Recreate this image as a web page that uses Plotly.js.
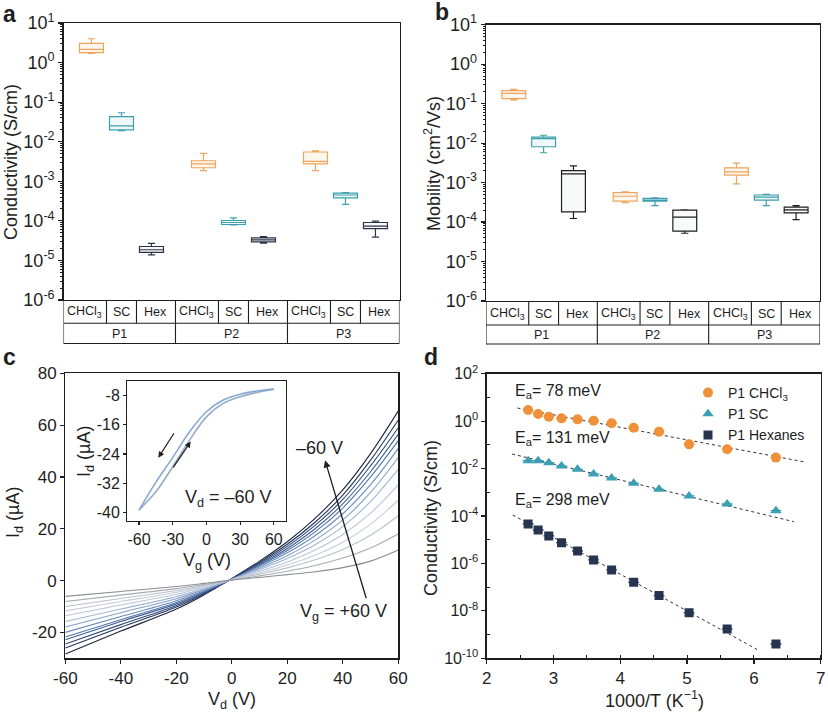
<!DOCTYPE html>
<html>
<head>
<meta charset="utf-8">
<script src="https://cdn.plot.ly/plotly-3.0.1.min.js"></script>
<style>html,body{margin:0;padding:0;background:#fff}#chart{width:828px;height:716px}</style>
</head>
<body>
<div id="chart"></div>
<script>
// ---------------- DATA ----------------
const groupLabels = ['P1', 'P2', 'P3'];
const solventLabels = ['CHCl<sub>3</sub>', 'SC', 'Hex'];
const solventColors = ['#f0a45c', '#3d9fad', '#2d3447'];

// order: P1 CHCl3, P1 SC, P1 Hex, P2 CHCl3, P2 SC, P2 Hex, P3 CHCl3, P3 SC, P3 Hex
const condLow  = [1.70, 0.019, 1.38e-5, 1.86e-3, 7.9e-5, 2.75e-5, 1.86e-3, 2.6e-4, 3.9e-5];
const condQ1   = [1.78, 0.020, 1.60e-5, 2.20e-3, 8.1e-5, 2.95e-5, 2.75e-3, 3.8e-4, 6.4e-5];
const condMed  = [2.16, 0.025, 1.86e-5, 2.75e-3, 9.1e-5, 3.30e-5, 3.20e-3, 4.5e-4, 7.4e-5];
const condQ3   = [3.07, 0.043, 2.25e-5, 3.30e-3, 1.02e-4, 3.70e-5, 5.50e-3, 5.0e-4, 9.1e-5];
const condHigh = [4.00, 0.054, 2.70e-5, 5.10e-3, 1.19e-4, 4.00e-5, 5.90e-3, 5.2e-4, 9.8e-5];

const mobLow  = [0.124, 5.7e-3, 1.23e-4, 3.1e-4, 2.6e-4, 5.2e-5, 9.3e-4, 2.6e-4, 1.15e-4];
const mobQ1   = [0.134, 8.1e-3, 1.82e-4, 3.4e-4, 3.4e-4, 5.9e-5, 1.54e-3, 3.6e-4, 1.7e-4];
const mobMed  = [0.183, 0.013, 1.66e-3, 4.5e-4, 3.6e-4, 1.33e-4, 1.86e-3, 4.3e-4, 2.04e-4];
const mobQ3   = [0.214, 0.0141, 2.0e-3, 5.6e-4, 4.0e-4, 2.0e-4, 2.35e-3, 4.85e-4, 2.4e-4];
const mobHigh = [0.231, 0.0158, 2.65e-3, 5.8e-4, 4.1e-4, 2.04e-4, 3.1e-3, 5.0e-4, 2.6e-4];

const logTickVals = [1e-6, 1e-5, 1e-4, 1e-3, 1e-2, 1e-1, 1e0, 1e1];
const logTickText = ['10<sup>-6</sup>', '10<sup>-5</sup>', '10<sup>-4</sup>', '10<sup>-3</sup>', '10<sup>-2</sup>', '10<sup>-1</sup>', '10<sup>0</sup>', '10<sup>1</sup>'];

// panel c: output curves, Vd sweep, one curve per Vg (from -60 V to +60 V)
const vd = [-60, -40, -20, -10, 0, 10, 20, 30, 40, 50, 60];
const vgValues = [-60, -50, -40, -30, -20, -10, 0, 10, 20, 30, 40, 50, 60];
const idCurves = [
  [-28.3, -19.5, -11.0, -5.5, 0.8, 7.5, 15.0, 24.0, 35.0, 49.0, 65.5],
  [-26.0, -18.0, -10.2, -5.1, 0.7, 7.0, 14.0, 22.5, 33.0, 46.5, 62.0],
  [-24.5, -17.0, -9.6, -4.8, 0.7, 6.6, 13.2, 21.3, 31.3, 44.3, 59.0],
  [-22.8, -15.8, -9.0, -4.5, 0.6, 6.2, 12.4, 20.0, 29.6, 42.0, 56.5],
  [-21.8, -15.1, -8.5, -4.2, 0.6, 5.8, 11.6, 18.8, 28.0, 40.0, 54.0],
  [-20.0, -13.9, -7.8, -3.9, 0.5, 5.3, 10.7, 17.3, 25.8, 37.0, 51.0],
  [-17.9, -12.4, -7.0, -3.5, 0.5, 4.8, 9.6, 15.6, 23.4, 34.0, 47.5],
  [-15.8, -11.0, -6.2, -3.1, 0.4, 4.2, 8.5, 13.8, 20.8, 30.5, 43.0],
  [-13.6, -9.4, -5.3, -2.6, 0.4, 3.6, 7.2, 11.8, 17.8, 26.0, 37.0],
  [-11.7, -8.1, -4.5, -2.2, 0.3, 3.0, 6.0, 9.8, 14.8, 21.8, 31.0],
  [-10.0, -6.9, -3.8, -1.9, 0.3, 2.5, 4.9, 8.0, 12.0, 17.5, 25.0],
  [-8.1, -5.6, -3.1, -1.5, 0.2, 1.8, 3.6, 5.8, 8.7, 12.6, 18.0],
  [-6.1, -4.2, -2.3, -1.1, 0.2, 1.2, 2.3, 3.4, 5.0, 7.5, 11.8]
];
const curveColors = ['#1b2440', '#25345a', '#304a78', '#3e5f94', '#5275a8', '#6b8bbb', '#86a1c9', '#a2b6d4', '#b8c6d9', '#c5ced8', '#bcc1c8', '#a6aab0', '#8a8d92'];
const cXTicks = [-60, -40, -20, 0, 20, 40, 60];
const cXText = ['-60', '-40', '-20', '0', '20', '40', '60'];
const cYTicks = [-20, 0, 20, 40, 60, 80];
const cYText = ['-20', '0', '20', '40', '60', '80'];

// inset: transfer curve at Vd = -60 V
const vgInset = [-60, -45, -30, -15, 0, 15, 30, 45, 60];
const idReverse = [-39.4, -31.8, -25.0, -17.9, -12.4, -9.2, -7.6, -6.7, -6.2];
const idForward = [-39.4, -34.4, -27.5, -20.2, -13.8, -10.1, -8.3, -7.1, -6.2];
const insetXTicks = [-60, -30, 0, 30, 60];
const insetXText = ['-60', '-30', '0', '30', '60'];
const insetYTicks = [-40, -32, -24, -16, -8];
const insetYText = ['-40', '-32', '-24', '-16', '-8'];

// panel d: Arrhenius plot
const invT = [2.62, 2.77, 2.93, 3.12, 3.36, 3.60, 3.87, 4.20, 4.58, 5.03, 5.60, 6.33];
const sigCHCl3 = [2.94, 2.0, 1.54, 1.31, 1.19, 1.04, 0.81, 0.53, 0.36, 0.105, 0.065, 0.029];
const sigSC = [0.0215, 0.0215, 0.0177, 0.0128, 9.3e-3, 5.9e-3, 4.0e-3, 2.39e-3, 1.33e-3, 7.0e-4, 3.2e-4, 1.68e-4];
const sigHex = [4.6e-5, 2.57e-5, 1.44e-5, 7.5e-6, 3.35e-6, 1.4e-6, 5.3e-7, 1.6e-7, 4.4e-8, 8.4e-9, 1.73e-9, 4.0e-10];
const fitCHCl3X = [2.46, 6.74], fitCHCl3Y = [3.57, 0.0195];
const fitSCX = [2.38, 6.60], fitSCY = [0.0411, 5.75e-5];
const fitHexX = [2.39, 6.08], fitHexY = [1.1e-4, 2.1e-10];
const activation = ['78', '131', '298'];
const dTickVals = [1e-10, 1e-8, 1e-6, 1e-4, 1e-2, 1e0, 1e2];
const dTickText = ['10<sup>-10</sup>', '10<sup>-8</sup>', '10<sup>-6</sup>', '10<sup>-4</sup>', '10<sup>-2</sup>', '10<sup>0</sup>', '10<sup>2</sup>'];
const dMinorVals = [1e-9, 1e-7, 1e-5, 1e-3, 1e-1, 1e1];

// ---------------- LAYOUT HELPERS ----------------
const W = 828, H = 716;
const FONT = 'Liberation Sans, Arial, Helvetica, sans-serif';
const INK = '#1e1e1e';
const px = v => v / W;
const py = v => 1 - v / H;
const G = 3.733;            // spacing between groups (in box units)
const XR = [-0.933, 10.267]; // category axis range

const traces = [];
function boxTraces(xa, ya, low, q1, med, q3, high, hexColor) {
  for (let j = 0; j < 3; j++) {
    const idx = [j, j + 3, j + 6];
    const col = j === 2 ? hexColor : solventColors[j];
    traces.push({
      type: 'box', xaxis: xa, yaxis: ya, showlegend: false,
      x: idx.map((_, g) => g * G + j),
      lowerfence: idx.map(i => low[i]), q1: idx.map(i => q1[i]), median: idx.map(i => med[i]),
      q3: idx.map(i => q3[i]), upperfence: idx.map(i => high[i]),
      width: 0.8, whiskerwidth: 0.3, boxpoints: false,
      line: {color: col, width: 1.2},
      fillcolor: j === 0 ? 'rgba(240,164,92,0.10)' : (j === 1 ? 'rgba(61,159,173,0.08)' : 'rgba(45,52,71,0.03)'),
      hoverinfo: 'skip'
    });
  }
}
boxTraces('x', 'y', condLow, condQ1, condMed, condQ3, condHigh, '#2d3447');
boxTraces('x2', 'y2', mobLow, mobQ1, mobMed, mobQ3, mobHigh, '#1e1e1e');

idCurves.forEach((ys, k) => {
  traces.push({type: 'scatter', mode: 'lines', xaxis: 'x3', yaxis: 'y3', x: vd, y: ys,
    name: 'Vg = ' + vgValues[k] + ' V', showlegend: false,
    line: {color: curveColors[k], width: 1.1, shape: 'spline', smoothing: 1}});
});
traces.push({type: 'scatter', mode: 'lines', xaxis: 'x4', yaxis: 'y4', x: vgInset, y: idForward,
  showlegend: false, line: {color: '#98acc4', width: 1.6, shape: 'spline', smoothing: 1}});
traces.push({type: 'scatter', mode: 'lines', xaxis: 'x4', yaxis: 'y4', x: vgInset, y: idReverse,
  showlegend: false, line: {color: '#86a9d6', width: 1.6, shape: 'spline', smoothing: 1}});

const dSeries = [
  {y: sigCHCl3, name: 'P1 CHCl<sub>3</sub>', color: '#f0913a', symbol: 'circle', size: 10, fx: fitCHCl3X, fy: fitCHCl3Y},
  {y: sigSC, name: 'P1 SC', color: '#3a9fb1', symbol: 'triangle-up', size: 10, fx: fitSCX, fy: fitSCY},
  {y: sigHex, name: 'P1 Hexanes', color: '#263450', symbol: 'square', size: 9, fx: fitHexX, fy: fitHexY}
];
dSeries.forEach(s => {
  traces.push({type: 'scatter', mode: 'lines', xaxis: 'x5', yaxis: 'y5', x: s.fx, y: s.fy, showlegend: false,
    line: {color: '#333', width: 1, dash: 'dot'}, hoverinfo: 'skip'});
});
dSeries.forEach(s => {
  traces.push({type: 'scatter', mode: 'markers', xaxis: 'x5', yaxis: 'y5', x: invT, y: s.y, name: s.name,
    marker: {color: s.color, symbol: s.symbol, size: s.size, line: {width: 0}},
    error_x: {type: 'constant', value: 0.08, color: s.color, thickness: 1.3, width: 0}});
});

const baseAxis = {showline: true, linecolor: INK, linewidth: 1.3, mirror: true, showgrid: false, zeroline: false,
  ticks: 'outside', ticklen: 4, tickwidth: 1.2, tickcolor: INK, tickfont: {family: FONT, size: 18, color: INK},
  fixedrange: true, automargin: false};
const ax = o => Object.assign({}, baseAxis, o);

const catX = o => ax(Object.assign({range: XR, showticklabels: false, ticks: ''}, o));
const logY = o => ax(Object.assign({type: 'log', range: [-6, 1], tickmode: 'array', tickvals: logTickVals, ticktext: logTickText,
  ticklen: 4, minor: {dtick: 'D1', ticks: 'outside', ticklen: 2, tickcolor: INK, tickwidth: 1}}, o));

const layout = {
  width: W, height: H, margin: {l: 0, r: 0, t: 0, b: 0}, paper_bgcolor: '#fff', plot_bgcolor: 'rgba(0,0,0,0)',
  font: {family: FONT, color: INK}, boxmode: 'overlay', showlegend: true,
  legend: {x: px(688), y: py(377), xanchor: 'left', yanchor: 'top', font: {family: FONT, size: 14, color: INK},
    bgcolor: 'rgba(0,0,0,0)', tracegroupgap: 0, itemwidth: 30},
  xaxis: catX({domain: [px(63.5), px(399.5)], anchor: 'y'}),
  yaxis: logY({domain: [py(300), py(23)], anchor: 'x'}),
  xaxis2: catX({domain: [px(486), px(820)], anchor: 'y2'}),
  yaxis2: logY({domain: [py(301), py(24.7)], anchor: 'x2'}),
  xaxis3: ax({domain: [px(65.3), px(398.3)], anchor: 'y3', range: [-60, 60], tickmode: 'array', tickvals: cXTicks, ticktext: cXText,
    tickfont: {family: FONT, size: 17, color: INK}}),
  yaxis3: ax({domain: [py(658.3), py(373.3)], anchor: 'x3', range: [-30, 80], tickmode: 'array', tickvals: cYTicks, ticktext: cYText,
    tickfont: {family: FONT, size: 17, color: INK}}),
  xaxis4: ax({domain: [px(127.3), px(285.5)], anchor: 'y4', range: [-70.4, 70.4], tickmode: 'array', tickvals: insetXTicks, ticktext: insetXText,
    ticklen: 3, tickfont: {family: FONT, size: 16, color: INK}}),
  yaxis4: ax({domain: [py(521), py(381)], anchor: 'x4', range: [-42.4, -3.96], tickmode: 'array', tickvals: insetYTicks, ticktext: insetYText,
    ticklen: 3, tickfont: {family: FONT, size: 16, color: INK}}),
  xaxis5: ax({domain: [px(486.7), px(820.7)], anchor: 'y5', range: [2, 7], dtick: 1, tickfont: {family: FONT, size: 17, color: INK},
    minor: {dtick: 0.5, ticks: 'inside', ticklen: 3, tickcolor: INK, tickwidth: 1}}),
  yaxis5: ax({domain: [py(658.3), py(373.7)], anchor: 'x5', type: 'log', range: [-10, 2], tickmode: 'array', tickvals: dTickVals, ticktext: dTickText,
    tickfont: {family: FONT, size: 16, color: INK},
    minor: {tickmode: 'array', tickvals: dMinorVals, ticks: 'inside', ticklen: 3, tickcolor: INK, tickwidth: 1}}),
  shapes: [], annotations: []
};

// category tables under panels a and b
function table(xref, yTop, yMid, yBot) {
  const L = {color: INK, width: 1.1};
  const s = layout.shapes, a = layout.annotations;
  s.push({type: 'line', xref: xref, yref: 'paper', x0: XR[0], x1: XR[1], y0: py(yMid), y1: py(yMid), line: L});
  s.push({type: 'line', xref: xref, yref: 'paper', x0: XR[0], x1: XR[1], y0: py(yBot), y1: py(yBot), line: L});
  for (let g = 0; g <= 3; g++) {
    const xe = XR[0] + g * G;
    s.push({type: 'line', xref: xref, yref: 'paper', x0: xe, x1: xe, y0: py(yBot), y1: py(yTop), line: L});
  }
  for (let g = 0; g < 3; g++) {
    [0.5, 1.5].forEach(d => s.push({type: 'line', xref: xref, yref: 'paper', x0: g * G + d, x1: g * G + d, y0: py(yMid), y1: py(yTop), line: L}));
    const cx = [-0.217, 1.0, 2.15];
    solventLabels.forEach((t, j) => a.push({xref: xref, yref: 'paper', x: g * G + cx[j], y: py((yTop + yMid) / 2 + 0.5), text: t,
      xanchor: 'center', yanchor: 'middle', showarrow: false, font: {size: 12.5, family: FONT, color: INK}}));
    a.push({xref: xref, yref: 'paper', x: g * G + 0.933, y: py((yMid + yBot) / 2 + 0.5), text: groupLabels[g],
      xanchor: 'center', yanchor: 'middle', showarrow: false, font: {size: 12.5, family: FONT, color: INK}});
  }
}
table('x', 300, 323.3, 343.5);
table('x2', 301, 325, 344);

const ann = (o) => layout.annotations.push(Object.assign({xref: 'paper', yref: 'paper', showarrow: false,
  xanchor: 'center', yanchor: 'middle', font: {family: FONT, size: 18, color: INK}}, o));
// panel letters
ann({x: px(9), y: py(14), text: '<b>a</b>', font: {family: FONT, size: 23, color: INK}});
ann({x: px(442), y: py(12), text: '<b>b</b>', font: {family: FONT, size: 23, color: INK}});
ann({x: px(9), y: py(357), text: '<b>c</b>', font: {family: FONT, size: 23, color: INK}});
ann({x: px(431), y: py(357), text: '<b>d</b>', font: {family: FONT, size: 23, color: INK}});
// axis titles
ann({x: px(11), y: py(162), text: 'Conductivity (S/cm)', textangle: -90});
ann({x: px(432), y: py(164), text: 'Mobility (cm<sup>2</sup>/Vs)', textangle: -90});
ann({x: px(14), y: py(512), text: 'I<sub>d</sub> (µA)', textangle: -90});
ann({x: px(232), y: py(700), text: 'V<sub>d</sub> (V)'});
ann({x: px(86), y: py(452), text: 'I<sub>d</sub> (µA)', textangle: -90});
ann({x: px(207), y: py(561), text: 'V<sub>g</sub> (V)'});
ann({x: px(431), y: py(518), text: 'Conductivity (S/cm)', textangle: -90});
ann({x: px(654), y: py(699), text: '1000/T (K<sup>−1</sup>)'});
// panel c texts and arrows
ann({x: px(319), y: py(448), text: '–60 V'});
ann({x: px(343), y: py(612), text: 'V<sub>g</sub> = +60 V'});
ann({x: px(228), y: py(498), text: 'V<sub>d</sub> = –60 V'});
layout.annotations.push({xref: 'x3', yref: 'y3', axref: 'x3', ayref: 'y3', x: 33.6, y: 46.4, ax: 48.6, ay: -7.4, text: '',
  showarrow: true, arrowhead: 2, arrowsize: 1.1, arrowwidth: 1.3, arrowcolor: INK});
layout.annotations.push({xref: 'x4', yref: 'y4', axref: 'x4', ayref: 'y4', x: -42.8, y: -25.0, ax: -28, ay: -17.9, text: '',
  showarrow: true, arrowhead: 2, arrowsize: 1, arrowwidth: 1.2, arrowcolor: INK});
layout.annotations.push({xref: 'x4', yref: 'y4', axref: 'x4', ayref: 'y4', x: -14.0, y: -20.6, ax: -30.4, ay: -28.1, text: '',
  showarrow: true, arrowhead: 2, arrowsize: 1, arrowwidth: 1.2, arrowcolor: INK});
// panel d activation energies
[391, 438, 500].forEach((yy, i) => ann({x: px(513), y: py(yy), xanchor: 'left', text: 'E<sub>a</sub>= ' + activation[i] + ' meV', font: {family: FONT, size: 16, color: INK}}));

Plotly.newPlot('chart', traces, layout, {displayModeBar: false, staticPlot: true});
</script>
</body>
</html>
